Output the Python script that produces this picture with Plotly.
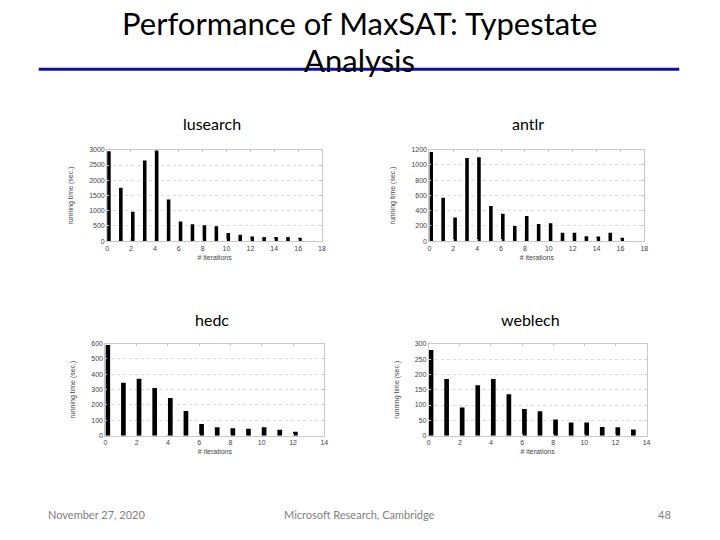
import plotly.graph_objects as go

lusearch_x = list(range(17))
lusearch_y = [2950, 1750, 970, 2650, 2980, 1370, 650, 560, 520, 490, 270, 210, 150, 140, 140, 140, 110]
antlr_x = list(range(17))
antlr_y = [1170, 570, 310, 1090, 1100, 460, 360, 200, 330, 225, 235, 110, 110, 65, 60, 110, 45]
hedc_x = list(range(13))
hedc_y = [590, 345, 370, 310, 245, 160, 75, 55, 48, 45, 55, 38, 25]
weblech_x = list(range(14))
weblech_y = [280, 185, 92, 165, 185, 135, 87, 80, 53, 43, 43, 28, 27, 20]

panels = [
    ("lusearch", lusearch_x, lusearch_y, [0, 18], [0, 3000], 500, [106, 322.7], [147.7, 240.3], 212, 121),
    ("antlr", antlr_x, antlr_y, [0, 18], [0, 1200], 200, [431, 647.7], [147.5, 240.3], 530, 121),
    ("hedc", hedc_x, hedc_y, [0, 14], [0, 600], 100, [104.3, 325], [344, 437.3], 212, 320),
    ("weblech", weblech_x, weblech_y, [0, 14], [0, 300], 50, [430.3, 650], [344.3, 437.3], 533, 320),
]

W, H = 720, 540
fig = go.Figure()
annotations = []
small = dict(family="Liberation Sans, Arial", size=7, color="#444444")
for i, (name, xs, ys, xr, yr, dy, xpx, ypx, tx, ty) in enumerate(panels, start=1):
    xa = "x" if i == 1 else f"x{i}"
    ya = "y" if i == 1 else f"y{i}"
    fig.add_trace(go.Bar(x=xs, y=ys, width=0.3, offset=0, marker=dict(color="black", line=dict(width=0)),
                         xaxis=xa, yaxis=ya, showlegend=False))
    xkey = "xaxis" if i == 1 else f"xaxis{i}"
    ykey = "yaxis" if i == 1 else f"yaxis{i}"
    fig.layout[xkey] = dict(domain=[xpx[0] / W, xpx[1] / W], range=xr, anchor=ya, dtick=2, tick0=0,
                            showgrid=False, zeroline=False, showline=True, mirror="ticks",
                            linecolor="#c8c8c8", linewidth=1, ticks="inside", ticklen=2, tickcolor="#c8c8c8",
                            tickfont=small,
                            title=dict(text="# iterations", font=small, standoff=4))
    fig.layout[ykey] = dict(domain=[1 - ypx[1] / H, 1 - ypx[0] / H], range=yr, anchor=xa, dtick=dy, tick0=0,
                            showgrid=True, gridcolor="#dddddd", griddash="dot", gridwidth=1,
                            zeroline=False, showline=True, mirror="ticks",
                            linecolor="#c8c8c8", linewidth=1, ticks="inside", ticklen=2, tickcolor="#c8c8c8",
                            tickfont=small,
                            title=dict(text="running time (sec.)", font=small, standoff=14))
    annotations.append(dict(text=name, x=tx / W, y=1 - ty / H, xref="paper", yref="paper",
                            showarrow=False, xanchor="center", yanchor="middle",
                            font=dict(family="Lato, Open Sans", size=16, color="black")))

annotations += [
    dict(text="Performance of MaxSAT: Typestate", x=0.5, y=1 - 19 / H, xref="paper", yref="paper",
         showarrow=False, xanchor="center", yanchor="middle", borderpad=0,
         font=dict(family="Lato, Open Sans", size=31, color="black")),
    dict(text="Analysis", x=0.5, y=1 - 57 / H, xref="paper", yref="paper",
         showarrow=False, xanchor="center", yanchor="middle", borderpad=0,
         font=dict(family="Lato, Open Sans", size=31, color="black")),
    dict(text="November 27, 2020", x=44 / W, y=1 - 517 / H, xref="paper", yref="paper",
         showarrow=False, xanchor="left", yanchor="middle",
         font=dict(family="Lato, Open Sans", size=11, color="#808080")),
    dict(text="Microsoft Research, Cambridge", x=360 / W, y=1 - 517 / H, xref="paper", yref="paper",
         showarrow=False, xanchor="center", yanchor="middle",
         font=dict(family="Lato, Open Sans", size=11, color="#808080")),
    dict(text="48", x=677 / W, y=1 - 517 / H, xref="paper", yref="paper",
         showarrow=False, xanchor="right", yanchor="middle",
         font=dict(family="Lato, Open Sans", size=11, color="#808080")),
]

fig.update_layout(
    width=W, height=H, margin=dict(l=0, r=0, t=0, b=0),
    paper_bgcolor="white", plot_bgcolor="white",
    annotations=annotations,
    shapes=[dict(type="line", xref="paper", yref="paper", x0=37 / W, x1=683 / W,
                 y0=1 - 66 / H, y1=1 - 66 / H, line=dict(color="#1010A8", width=3), layer="below")],
)
fig.write_html("out.html", config={"displayModeBar": False},
               post_script="document.body.style.margin='0';document.body.style.overflow='hidden';")
